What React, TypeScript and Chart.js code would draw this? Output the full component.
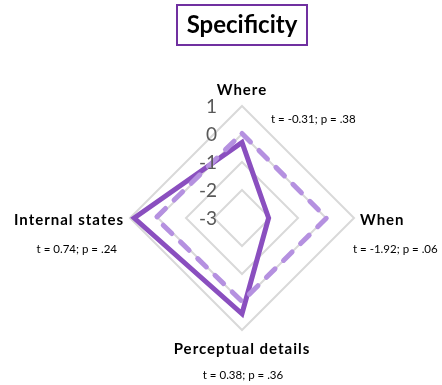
import React, { useEffect, useRef } from "react";
import { Chart, registerables } from "chart.js";

Chart.register(...registerables);

const categories = ["Where", "When", "Perceptual details", "Internal states"];
const statsLabels = ["t = -0.31; p = .38", "t = -1.92; p = .06", "t = 0.38; p = .36", "t = 0.74; p = .24"];
const solidValues = [-0.3, -2.05, 0.42, 0.85];
const dashedValues = [0.02, 0.02, -0.02, 0.08];
const tickValues = [-3, -2, -1, 0, 1];
const titleText = "Specificity";

const FONT = "Lato, 'Open Sans', sans-serif";

const labelPlugin = {
  id: "customLabels",
  afterDraw(chart: any) {
    const ctx = chart.ctx;
    const scale = chart.scales.r;
    const cx = scale.xCenter;
    const cy = scale.yCenter;
    ctx.save();
    // title with box
    ctx.font = `bold 24px ${FONT}`;
    ctx.textAlign = "center";
    ctx.textBaseline = "middle";
    ctx.fillStyle = "#000";
    ctx.fillText(titleText, 242, 25);
    ctx.strokeStyle = "#7030A0";
    ctx.lineWidth = 2;
    ctx.strokeRect(177, 5, 130, 40);

    // tick labels
    ctx.font = `19px ${FONT}`;
    ctx.fillStyle = "#595959";
    ctx.textAlign = "right";
    ctx.textBaseline = "middle";
    tickValues.forEach((v) => {
      const d = scale.getDistanceFromCenterForValue(v);
      ctx.fillText(String(v), cx - 25, cy - d + 1);
    });

    // point labels
    const R = scale.drawingArea;
    const p0 = scale.getPointPosition(0, R);
    const p1 = scale.getPointPosition(1, R);
    const p2 = scale.getPointPosition(2, R);
    const p3 = scale.getPointPosition(3, R);
    ctx.fillStyle = "#000";
    ctx.font = `bold 15px ${FONT}`;
    (ctx as any).letterSpacing = "1px";
    ctx.textBaseline = "middle";
    ctx.textAlign = "center";
    ctx.fillText(categories[0], p0.x, p0.y - 16);
    ctx.textAlign = "left";
    ctx.fillText(categories[1], p1.x + 6, p1.y + 2);
    ctx.textAlign = "center";
    ctx.fillText(categories[2], p2.x, p2.y + 19);
    ctx.textAlign = "right";
    ctx.fillText(categories[3], p3.x - 6, p3.y + 2);

    (ctx as any).letterSpacing = "0px";
    ctx.font = `11.5px ${FONT}`;
    ctx.textAlign = "left";
    ctx.fillText(statsLabels[0], p0.x + 29, p0.y + 13);
    ctx.fillText(statsLabels[1], p1.x - 1, p1.y + 31);
    ctx.textAlign = "center";
    ctx.fillText(statsLabels[2], p2.x + 1, p2.y + 45);
    ctx.textAlign = "right";
    ctx.fillText(statsLabels[3], p3.x - 13, p3.y + 31);
    ctx.restore();
  },
};

export default function App() {
  const ref = useRef<HTMLCanvasElement | null>(null);
  useEffect(() => {
    if (!ref.current) return;
    const chart = new Chart(ref.current, {
      type: "radar",
      data: {
        labels: categories,
        datasets: [
          {
            label: "Dashed",
            data: dashedValues,
            borderColor: "#B591E0",
            borderWidth: 5,
            borderDash: [12, 12],
            borderCapStyle: "round",
            borderJoinStyle: "round",
            backgroundColor: "transparent",
            fill: false,
            pointRadius: 0,
            tension: 0,
          },
          {
            label: "Solid",
            data: solidValues,
            borderColor: "#8A4FBF",
            borderWidth: 5,
            borderJoinStyle: "miter",
            backgroundColor: "transparent",
            fill: false,
            pointRadius: 0,
            tension: 0,
          },
        ],
      },
      options: {
        responsive: false,
        animation: false,
        layout: { padding: { left: 130, right: 88, top: 106, bottom: 55 } },
        plugins: {
          legend: { display: false },
          title: { display: false },
          tooltip: { enabled: false },
        },
        scales: {
          r: {
            min: -3,
            max: 1,
            beginAtZero: false,
            ticks: { display: false, stepSize: 1 },
            pointLabels: { display: false },
            angleLines: { display: false },
            grid: { color: "#D9D9D9", lineWidth: 2 },
          },
        },
      },
      plugins: [labelPlugin],
    });
    return () => chart.destroy();
  }, []);
  return (
    <div style={{ position: "absolute", left: 0, top: 0, width: 442, height: 385 }}>
      <canvas ref={ref} width={442} height={385} />
    </div>
  );
}
